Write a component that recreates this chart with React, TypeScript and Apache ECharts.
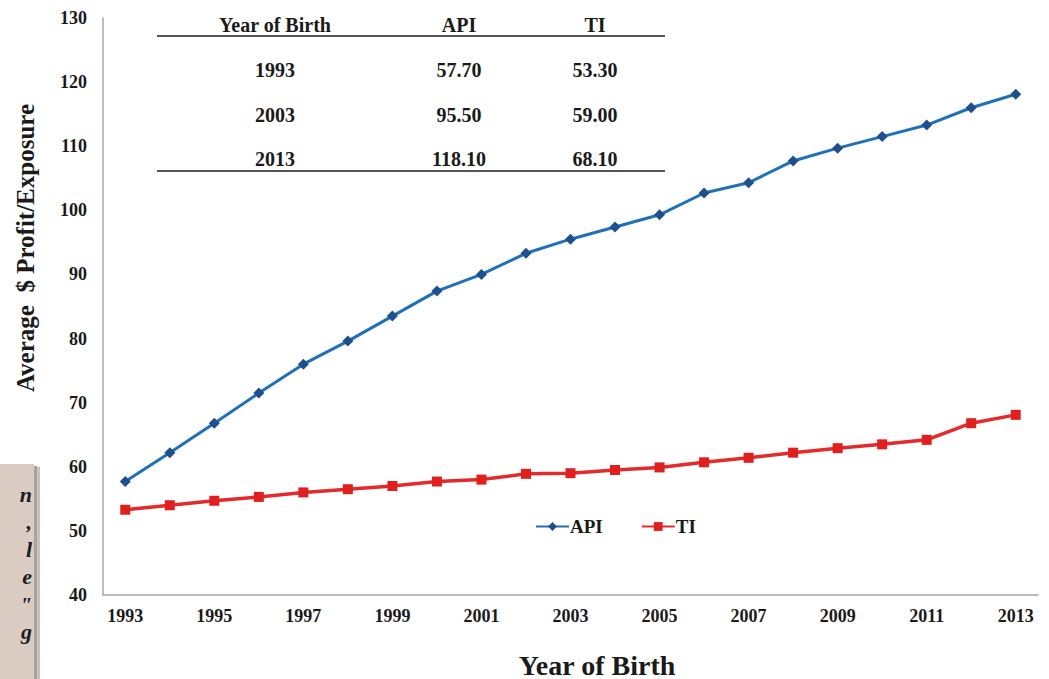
import React, { useEffect, useRef } from "react";
import * as echarts from "echarts";

const years = ["1993","1994","1995","1996","1997","1998","1999","2000","2001","2002","2003","2004","2005","2006","2007","2008","2009","2010","2011","2012","2013"];
const apiValues = [57.7, 62.2, 66.8, 71.5, 76.0, 79.6, 83.5, 87.4, 90.0, 93.3, 95.5, 97.4, 99.3, 102.7, 104.3, 107.7, 109.7, 111.5, 113.3, 116.0, 118.1];
const tiValues = [53.3, 54.0, 54.7, 55.3, 56.0, 56.5, 57.0, 57.7, 58.0, 58.9, 59.0, 59.5, 59.9, 60.7, 61.4, 62.2, 62.9, 63.5, 64.2, 66.8, 68.1];
const tableHeader = ["Year of Birth", "API", "TI"];
const tableRows = [
  ["1993", "57.70", "53.30"],
  ["2003", "95.50", "59.00"],
  ["2013", "118.10", "68.10"],
];
const sideLetters = ["n", ",", "l", "e", "\"", "g"];

const SERIF = "Liberation Serif";

export default function App() {
  const ref = useRef<HTMLDivElement>(null);
  useEffect(() => {
    if (!ref.current) return;
    const chart = echarts.init(ref.current, undefined, { renderer: "svg" });
    const colX = [275, 459, 595];
    const rowY = [70, 115, 159];
    const graphics: any[] = [];
    // side box
    graphics.push({ type: "rect", shape: { x: 0, y: 467, width: 40, height: 220 }, style: { fill: "#c9c2bf" }, z: 1 });
    graphics.push({ type: "rect", shape: { x: 0, y: 466, width: 37, height: 220 }, style: { fill: "#a9a3a0" }, z: 1 });
    graphics.push({ type: "rect", shape: { x: 0, y: 464, width: 34, height: 220 }, style: { fill: "#dacbc3" }, z: 2 });
    sideLetters.forEach((ch, i) => {
      graphics.push({ type: "text", x: 32, y: 494 + i * 27.5, z: 3, style: { text: ch, font: `italic bold 22px ${SERIF}`, fill: "#1e1e1e", align: "right", verticalAlign: "middle" } });
    });
    // table
    graphics.push({ type: "line", shape: { x1: 157, y1: 36, x2: 665, y2: 36 }, style: { stroke: "#555", lineWidth: 2 } });
    graphics.push({ type: "line", shape: { x1: 157, y1: 171, x2: 665, y2: 171 }, style: { stroke: "#555", lineWidth: 2 } });
    tableHeader.forEach((t, i) => {
      graphics.push({ type: "text", x: colX[i], y: 25, style: { text: t, font: `bold 20px ${SERIF}`, fill: "#1a1a1a", align: "center", verticalAlign: "middle" } });
    });
    tableRows.forEach((row, r) => {
      row.forEach((t, i) => {
        graphics.push({ type: "text", x: colX[i], y: rowY[r], style: { text: t, font: `bold 20px ${SERIF}`, fill: "#1a1a1a", align: "center", verticalAlign: "middle" } });
      });
    });
    // axis names
    graphics.push({ type: "text", x: 25, y: 248, rotation: Math.PI / 2, style: { text: "Average  $ Profit/Exposure", font: `bold 25px ${SERIF}`, fill: "#1a1a1a", align: "center", verticalAlign: "middle" } });
    graphics.push({ type: "text", x: 597, y: 665, style: { text: "Year of Birth", font: `bold 28px ${SERIF}`, fill: "#1a1a1a", align: "center", verticalAlign: "middle" } });

    chart.setOption({
      animation: false,
      backgroundColor: "#ffffff",
      grid: { left: 103, right: 11, top: 18, bottom: 84, containLabel: false },
      legend: {
        data: ["API", "TI"],
        left: 530,
        top: 512,
        itemWidth: 33,
        itemHeight: 11,
        itemGap: 38,
        textStyle: { fontFamily: SERIF, fontWeight: "bold", fontSize: 19, color: "#1a1a1a", padding: [0, 0, 0, -4] },
      },
      xAxis: {
        type: "category",
        data: years,
        boundaryGap: true,
        axisLine: { lineStyle: { color: "#a6a6a6", width: 1.5 } },
        axisTick: { show: false },
        axisLabel: { interval: 1, margin: 12, fontFamily: SERIF, fontWeight: "bold", fontSize: 18, color: "#1a1a1a" },
        splitLine: { show: false },
      },
      yAxis: {
        type: "value",
        min: 40,
        max: 130,
        interval: 10,
        axisLine: { show: true, lineStyle: { color: "#a6a6a6", width: 1.5 } },
        axisTick: { show: false },
        axisLabel: { margin: 16, fontFamily: SERIF, fontWeight: "bold", fontSize: 18, color: "#1a1a1a" },
        splitLine: { show: false },
      },
      series: [
        {
          name: "API",
          type: "line",
          data: apiValues,
          symbol: "diamond",
          symbolSize: 11,
          lineStyle: { color: "#1f70b8", width: 3 },
          itemStyle: { color: "#1f4f8f" },
          z: 3,
        },
        {
          name: "TI",
          type: "line",
          data: tiValues,
          symbol: "rect",
          symbolSize: 10,
          lineStyle: { color: "#e42a2a", width: 3.5 },
          itemStyle: { color: "#e01f1f" },
          z: 2,
        },
      ],
      graphic: graphics,
    });
    return () => chart.dispose();
  }, []);
  return <div ref={ref} style={{ position: "fixed", left: 0, top: 0, width: 1049, height: 679 }} />;
}
